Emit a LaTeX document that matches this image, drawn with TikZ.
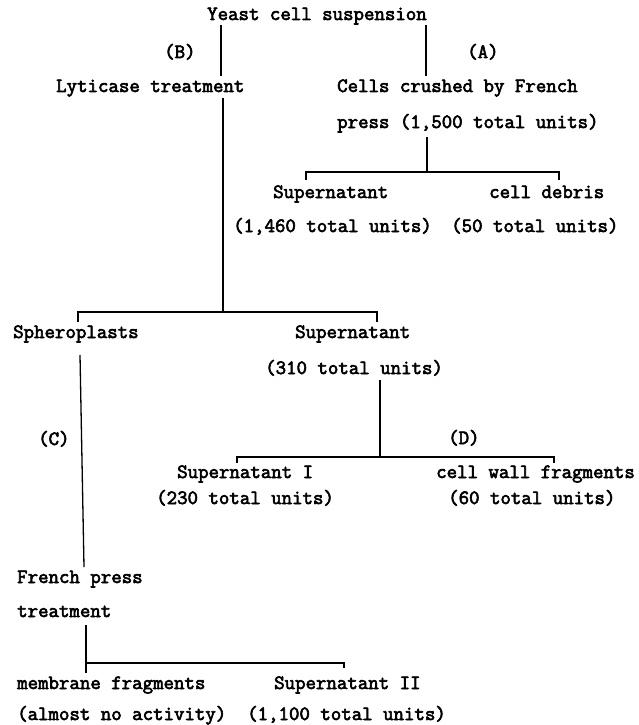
\documentclass[tikz,border=0pt]{standalone}
\usepackage{fontspec}
\newfontfamily\courf[FakeBold=3]{Latin Modern Mono}
\begin{document}
\begin{tikzpicture}[x=1pt,y=-1pt,
  lbl/.style={anchor=base west, inner sep=0pt, font=\fontsize{20.3}{22}\selectfont\courf\bfseries},
  ln/.style={line width=1.3pt}]
\useasboundingbox (0,0) rectangle (639,725);
% texts
\node[lbl] (yeast) at (207,20) {Yeast cell suspension};
\node[lbl] (labB) at (164,58) {(B)};
\node[lbl] (labA) at (467,58) {(A)};
\node[lbl] (lytic) at (56,92) {Lyticase treatment};
\node[lbl] (cells1) at (337,92) {Cells crushed by French};
\node[lbl] (cells2) at (337,128) {press (1,500 total units)};
\node[lbl] (supA) at (273,198) {Supernatant};
\node[lbl] (debris) at (489,198) {cell debris};
\node[lbl] (supAu) at (233,232) {(1,460 total units)};
\node[lbl] (debrisu) at (451,232) {(50 total units)};
\node[lbl] (sphero) at (13,338) {Spheroplasts};
\node[lbl] (supB) at (295,338) {Supernatant};
\node[lbl] (supBu) at (265,374) {(310 total units)};
\node[lbl] (labC) at (38,445) {(C)};
\node[lbl] (labD) at (448,444) {(D)};
\node[lbl] (sup1) at (177,478) {Supernatant I};
\node[lbl] (cwf) at (436,478) {cell wall fragments};
\node[lbl] (sup1u) at (156,504) {(230 total units)};
\node[lbl] (cwfu) at (448,504) {(60 total units)};
\node[lbl] (french1) at (17,583) {French press};
\node[lbl] (french2) at (17,617) {treatment};
\node[lbl] (memb) at (17,689) {membrane fragments};
\node[lbl] (sup2) at (274,689) {Supernatant II};
\node[lbl] (membu) at (17,720) {(almost no activity)};
\node[lbl] (sup2u) at (247,720) {(1,100 total units)};
% junction points
\coordinate (yL1) at (221,25);  \coordinate (yL2) at (221,76);
\coordinate (yR1) at (426,25);  \coordinate (yR2) at (426,76);
\coordinate (pA1) at (427,137); \coordinate (pA2) at (427,172);
\coordinate (bA1) at (306,180); \coordinate (bA2) at (306,172);
\coordinate (bA3) at (559,172); \coordinate (bA4) at (559,180);
\coordinate (lB1) at (223,98);  \coordinate (lB2) at (223,312);
\coordinate (bB1) at (78,322);  \coordinate (bB2) at (78,312);
\coordinate (bB3) at (377,312); \coordinate (bB4) at (377,322);
\coordinate (sC1) at (80,355);  \coordinate (sC2) at (84,567);
\coordinate (sD1) at (380,380); \coordinate (sD2) at (380,457);
\coordinate (bD1) at (237,463); \coordinate (bD2) at (237,457);
\coordinate (bD3) at (554,457); \coordinate (bD4) at (554,463);
\coordinate (fE1) at (86,625);  \coordinate (fE2) at (86,673);
\coordinate (bE1) at (86,663);  \coordinate (bE2) at (344,663);
\coordinate (bE3) at (344,668);
% connectors
\draw[ln] (yL1) -- (yL2);
\draw[ln] (yR1) -- (yR2);
\draw[ln] (pA1) -- (pA2);
\draw[ln] (bA1) -- (bA2) -- (bA3) -- (bA4);
\draw[ln] (lB1) -- (lB2);
\draw[ln] (bB1) -- (bB2) -- (bB3) -- (bB4);
\draw[ln] (sC1) -- (sC2);
\draw[ln] (sD1) -- (sD2);
\draw[ln] (bD1) -- (bD2) -- (bD3) -- (bD4);
\draw[ln] (fE1) -- (fE2);
\draw[ln] (bE1) -- (bE2) -- (bE3);
\end{tikzpicture}
\end{document}
